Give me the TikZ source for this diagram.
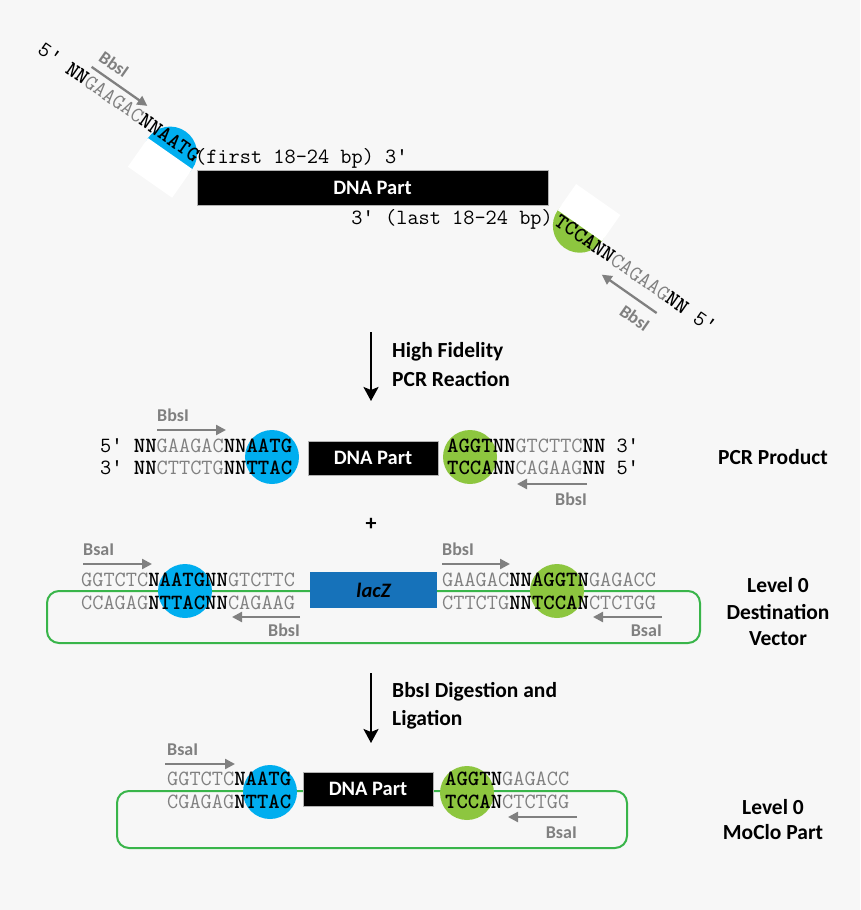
\documentclass[tikz,border=0pt]{standalone}
\usepackage{fontspec}
\setmainfont{Carlito}
\newfontfamily\primefont{Liberation Mono}
\usepackage{xcolor}
\definecolor{bgpaper}{RGB}{247,247,247}
\definecolor{seqgray}{RGB}{128,128,128}
\definecolor{ovblue}{RGB}{0,174,239}
\definecolor{ovgreen}{RGB}{141,198,63}
\definecolor{lacblue}{RGB}{22,114,186}
\definecolor{loopgreen}{RGB}{57,181,74}
\newcommand{\ntbold}[1]{\textbf{#1}}
\newcommand{\ntgray}[1]{\textcolor{seqgray}{#1}}
\newcommand{\prm}{{\primefont\fontsize{19}{21}\selectfont ′}}
\usepackage{tikz}
\usetikzlibrary{arrows.meta,positioning}

\begin{document}
\begin{tikzpicture}[
  x=1pt,y=-1pt,
  strand/.style={font=\ttfamily\fontsize{21.7}{23}\selectfont,inner sep=0pt},
  enzyme/.style={font=\fontsize{18}{20}\selectfont\bfseries,text=seqgray,inner sep=0pt},
  site/.style={draw=seqgray,line width=2.3pt,-{Triangle[length=10pt,width=10pt]}},
  flow/.style={line width=2.4pt,-{Stealth[length=14pt,width=15pt,inset=3pt]}},
  overhang/.style={circle,minimum size=54pt,inner sep=0pt},
  part/.style={rectangle,fill=black,draw=gray!60,line width=0.5pt,text=white,
    font=\fontsize{20.5}{22}\selectfont\bfseries,inner sep=0pt},
  caption/.style={font=\fontsize{21.5}{26.5}\selectfont\bfseries,align=center,inner sep=0pt},
  stage/.style={font=\fontsize{21.5}{29}\selectfont\bfseries,align=left,inner sep=0pt},
  backbone/.style={draw=loopgreen,line width=2pt,rounded corners=12pt},
]
\fill[bgpaper] (0,0) rectangle (860,910);
\useasboundingbox (0,0) rectangle (860,910);

\begin{scope}[shift={(194,163)},rotate=-35,y=1pt]
  \fill[ovblue] (-25,-6) circle[radius=27];
  \fill[white] (-52,-6) rectangle (2,-41);
  \node[strand,anchor=base east,transform shape] (fwdPrimer) at (0,0) {5\prm{} \ntbold{NN}\ntgray{GAAGAC}\ntbold{NNAATG}};
  \coordinate (fwdSiteA) at (-139,20);
  \coordinate (fwdSiteB) at (-71,20);
  \draw[site] (fwdSiteA) -- (fwdSiteB);
  \node[enzyme,transform shape] (fwdEnz) at (-122,35) {BbsI};
\end{scope}

\begin{scope}[shift={(553,224)},rotate=-35,y=1pt]
  \fill[ovgreen] (23,14) circle[radius=27];
  \fill[white] (-4,14) rectangle (50,46);
  \node[strand,anchor=base west,transform shape] (revPrimer) at (0,0) {\ntbold{TCCANN}\ntgray{CAGAAG}\ntbold{NN} 5\prm};
  \coordinate (revSiteA) at (136,-13.5);
  \coordinate (revSiteB) at (69,-13.5);
  \draw[site] (revSiteA) -- (revSiteB);
  \node[enzyme,transform shape] (revEnz) at (121,-30) {BbsI};
\end{scope}

\node[part,minimum width=351pt,minimum height=35pt] (dnaTop) at (372.5,187.5) {DNA Part};
\node[strand,anchor=base west] (firstBp) at (195,163) {(first 18-24 bp) 3\prm};
\node[strand,anchor=base east] (lastBp) at (553,224) {3\prm{} (last 18-24 bp)};

\coordinate (pcrFrom) at (371,332);
\coordinate (pcrTo) at (371,401);
\draw[flow] (pcrFrom) -- (pcrTo);
\node[stage,anchor=west] (pcrStep) at (392,364.5) {High Fidelity\\PCR Reaction};

\node[overhang,fill=ovblue] (pcrBlue) at (272,457) {};
\node[overhang,fill=ovgreen] (pcrGreen) at (470,457) {};
\node[part,minimum width=130pt,minimum height=34pt] (pcrPart) at (373,458) {DNA Part};
\node[strand,anchor=base west] (pcrTopL) at (100,452) {5\prm{} \ntbold{NN}\ntgray{GAAGAC}\ntbold{NNAATG}};
\node[strand,anchor=base west] (pcrBotL) at (100,474) {3\prm{} \ntbold{NN}\ntgray{CTTCTG}\ntbold{NNTTAC}};
\node[strand,anchor=base west] (pcrTopR) at (447,452) {\ntbold{AGGTNN}\ntgray{GTCTTC}\ntbold{NN} 3\prm};
\node[strand,anchor=base west] (pcrBotR) at (447,474) {\ntbold{TCCANN}\ntgray{CAGAAG}\ntbold{NN} 5\prm};
\coordinate (pcrSiteA) at (157,430);
\coordinate (pcrSiteB) at (226,430);
\coordinate (pcrSiteC) at (587,484);
\coordinate (pcrSiteD) at (517,484);
\draw[site] (pcrSiteA) -- (pcrSiteB);
\draw[site] (pcrSiteC) -- (pcrSiteD);
\node[enzyme,anchor=base west] (pcrEnzA) at (157,421) {BbsI};
\node[enzyme,anchor=base east] (pcrEnzB) at (587,505) {BbsI};
\node[caption] (pcrCap) at (773,457) {PCR Product};

\node[font=\fontsize{22}{24}\selectfont\bfseries,inner sep=0pt] (plus) at (371,524) {+};

\draw[backbone] (47,591) rectangle (700,643);
\node[overhang,fill=ovblue] (dstBlue) at (185,591) {};
\node[overhang,fill=ovgreen] (dstGreen) at (557,591) {};
\node[part,fill=lacblue,draw=none,text=black,font=\fontsize{20.5}{22}\selectfont\bfseries\itshape,
  minimum width=127pt,minimum height=36pt] (lacZ) at (373.5,590) {lacZ};
\node[strand,anchor=base west] (dstTopL) at (81,586) {\ntgray{GGTCTC}\ntbold{NAATGNN}\ntgray{GTCTTC}};
\node[strand,anchor=base west] (dstBotL) at (81,609) {\ntgray{CCAGAG}\ntbold{NTTACNN}\ntgray{CAGAAG}};
\node[strand,anchor=base west] (dstTopR) at (442,586) {\ntgray{GAAGAC}\ntbold{NNAGGTN}\ntgray{GAGACC}};
\node[strand,anchor=base west] (dstBotR) at (442,609) {\ntgray{CTTCTG}\ntbold{NNTCCAN}\ntgray{CTCTGG}};
\coordinate (dstSiteA) at (83,564);
\coordinate (dstSiteB) at (152,564);
\coordinate (dstSiteC) at (442,564);
\coordinate (dstSiteD) at (510,564);
\coordinate (dstSiteE) at (300,617);
\coordinate (dstSiteF) at (232,617);
\coordinate (dstSiteG) at (662,617);
\coordinate (dstSiteH) at (593,617);
\draw[site] (dstSiteA) -- (dstSiteB);
\draw[site] (dstSiteC) -- (dstSiteD);
\draw[site] (dstSiteE) -- (dstSiteF);
\draw[site] (dstSiteG) -- (dstSiteH);
\node[enzyme,anchor=base west] (dstEnzA) at (83,555) {BsaI};
\node[enzyme,anchor=base west] (dstEnzB) at (442,555) {BbsI};
\node[enzyme,anchor=base east] (dstEnzC) at (300,636) {BbsI};
\node[enzyme,anchor=base east] (dstEnzD) at (662,636) {BsaI};
\node[caption] (dstCap) at (778,612) {Level 0\\Destination\\Vector};

\coordinate (ligFrom) at (371,673);
\coordinate (ligTo) at (371,743);
\draw[flow] (ligFrom) -- (ligTo);
\node[stage,font=\fontsize{21.5}{28}\selectfont\bfseries,anchor=west] (ligStep) at (392,706) {BbsI Digestion and\\Ligation};

\draw[backbone] (117,791) rectangle (627,848);
\node[overhang,fill=ovblue] (mocBlue) at (270,792) {};
\node[overhang,fill=ovgreen] (mocGreen) at (467,793) {};
\node[part,minimum width=130pt,minimum height=34pt] (mocPart) at (368,789) {DNA Part};
\node[strand,anchor=base west] (mocTopL) at (167,785) {\ntgray{GGTCTC}\ntbold{NAATG}};
\node[strand,anchor=base west] (mocBotL) at (167,808) {\ntgray{CGAGAG}\ntbold{NTTAC}};
\node[strand,anchor=base west] (mocTopR) at (445,785) {\ntbold{AGGTN}\ntgray{GAGACC}};
\node[strand,anchor=base west] (mocBotR) at (445,808) {\ntbold{TCCAN}\ntgray{CTCTGG}};
\coordinate (mocSiteA) at (165,764);
\coordinate (mocSiteB) at (235,764);
\coordinate (mocSiteC) at (577,817);
\coordinate (mocSiteD) at (508,817);
\draw[site] (mocSiteA) -- (mocSiteB);
\draw[site] (mocSiteC) -- (mocSiteD);
\node[enzyme,anchor=base west] (mocEnzA) at (167,755) {BsaI};
\node[enzyme,anchor=base east] (mocEnzB) at (577,838) {BsaI};
\node[caption,font=\fontsize{21.5}{25}\selectfont\bfseries] (mocCap) at (773,820) {Level 0\\MoClo Part};
\end{tikzpicture}
\end{document}
